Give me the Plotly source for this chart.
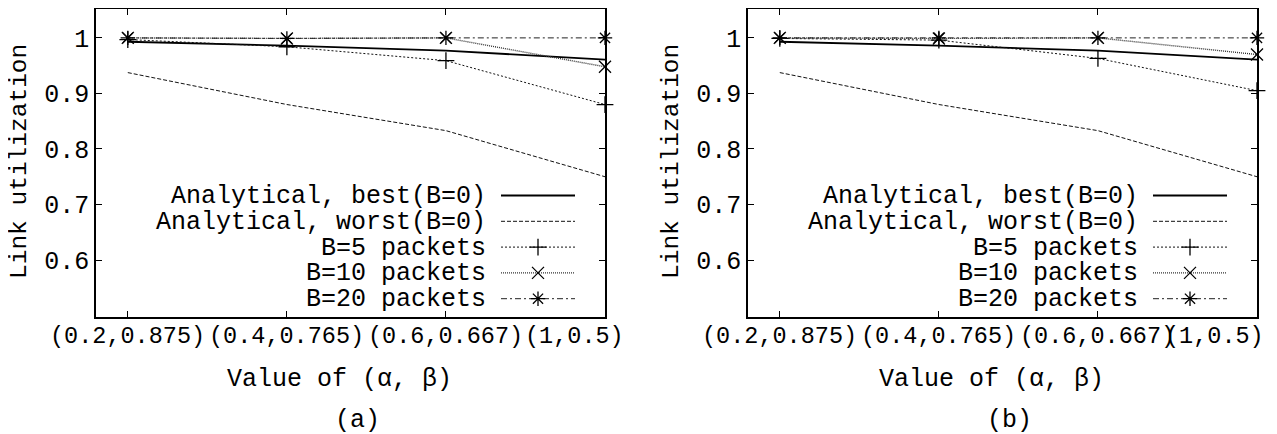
import plotly.graph_objects as go

# ---------------- data ----------------
x_labels = ["(0.2,0.875)", "(0.4,0.765)", "(0.6,0.667)", "(1,0.5)"]
x_idx = [0, 1, 2, 3]
y_ticks = [0.6, 0.7, 0.8, 0.9, 1]
y_ticktext = ["0.6", "0.7", "0.8", "0.9", "1"]

series_names = ["Analytical, best(B=0)", "Analytical, worst(B=0)",
                "B=5 packets", "B=10 packets", "B=20 packets"]

best_a = [0.993, 0.986, 0.977, 0.961]
worst_a = [0.9375, 0.880, 0.833, 0.750]
b5_a = [0.997, 0.984, 0.959, 0.880]
b10_a = [1.0, 0.999, 1.0, 0.948]
b20_a = [1.0, 0.999, 1.0, 1.0]

best_b = [0.993, 0.986, 0.977, 0.961]
worst_b = [0.9375, 0.880, 0.833, 0.750]
b5_b = [0.999, 0.996, 0.963, 0.905]
b10_b = [1.0, 0.999, 1.0, 0.970]
b20_b = [1.0, 1.0, 1.0, 1.0]

panel_labels = ["(a)", "(b)"]
x_title = "Value of (α, β)"
y_title = "Link utilization"

# ---------------- styles / layout ----------------
PAGE_W, PAGE_H = 1277, 434
OFF = 8  # default page body margin
W, H = PAGE_W - OFF, PAGE_H - OFF
FONT = "Liberation Mono, Courier New, monospace"


def fx(px):
    return (px - OFF) / W


def fy(py):
    return 1 - (py - OFF) / H


styles = [
    dict(dash="solid", width=1.8, symbol=None, color="#000"),
    dict(dash="4px,2px", width=1, symbol=None, color="#111"),
    dict(dash="2px,2px", width=1, symbol="cross-thin", color="#111"),
    dict(dash="1px,1px", width=1.4, symbol="x-thin", color="#333"),
    dict(dash="6px,3px,2px,3px", width=1, symbol="asterisk", color="#222"),
]
panels = [
    dict(left=96, right=605, data=[best_a, worst_a, b5_a, b10_a, b20_a],
         last_shift=-30.5),
    dict(left=748, right=1257, data=[best_b, worst_b, b5_b, b10_b, b20_b],
         last_shift=-42.5),
]
top_px, bot_px = 9, 316.7
leg_y0, leg_dy = 195.5, 25.8

fig = go.Figure()
layout = dict(
    template="none",
    width=W, height=H, autosize=False,
    margin=dict(l=0, r=0, t=0, b=0, pad=0),
    paper_bgcolor="white", plot_bgcolor="rgba(0,0,0,0)",
    showlegend=False,
    font=dict(family=FONT, color="black"),
    annotations=[], shapes=[],
)

for p_i, p in enumerate(panels):
    k = p_i + 1
    xa = "x" if k == 1 else f"x{k}"
    ya = "y" if k == 1 else f"y{k}"
    for s_i, (vals, st) in enumerate(zip(p["data"], styles)):
        mode = "lines" if st["symbol"] is None else "lines+markers"
        fig.add_trace(go.Scatter(
            x=x_idx, y=vals, mode=mode, xaxis=xa, yaxis=ya,
            name=series_names[s_i],
            line=dict(color=st["color"], width=st["width"], dash=st["dash"]),
            marker=dict(symbol=st["symbol"] or "circle", size=12, color="black",
                        line=dict(color="black", width=1.3)),
            cliponaxis=False,
        ))
    dom_x = [fx(p["left"]), fx(p["right"])]
    dom_y = [fy(bot_px), fy(top_px)]
    layout[f"xaxis{'' if k == 1 else k}"] = dict(
        domain=dom_x, anchor=ya, range=[-0.2, 3], automargin=False,
        tickvals=x_idx, showticklabels=False,
        ticks="inside", ticklen=6, tickwidth=1.2, tickcolor="black",
        showline=True, linecolor="black", linewidth=1.5, mirror="ticks",
        showgrid=False, zeroline=False,
    )
    layout[f"yaxis{'' if k == 1 else k}"] = dict(
        domain=dom_y, anchor=xa, range=[0.498, 1.052], automargin=False,
        tickvals=y_ticks, ticktext=y_ticktext,
        ticks="inside", ticklen=6, tickwidth=1.2, tickcolor="black",
        showline=True, linecolor="black", linewidth=1.5, mirror="ticks",
        showgrid=False, zeroline=False,
        tickfont=dict(family=FONT, size=25, color="black"),
    )
    # x tick labels placed on the axis scale (last one nudged inward like gnuplot)
    for i, (xv, lab) in enumerate(zip(x_idx, x_labels)):
        layout["annotations"].append(dict(
            xref=xa, yref="paper", x=xv, y=fy(336.7), text=lab, showarrow=False,
            xanchor="center", yanchor="middle",
            xshift=p["last_shift"] if i == len(x_idx) - 1 else 0,
            font=dict(family=FONT, size=23.5, color="black")))
    cx = (p["left"] + p["right"]) / 2
    # axis titles and panel label
    layout["annotations"].append(dict(
        xref="paper", yref="paper", x=fx(p["left"] - 77), y=fy(162),
        text=y_title, textangle=-90, showarrow=False,
        xanchor="center", yanchor="middle",
        font=dict(family=FONT, size=24.5, color="black")))
    layout["annotations"].append(dict(
        xref="paper", yref="paper", x=fx(cx - 11), y=fy(379),
        text=x_title, showarrow=False, xanchor="center", yanchor="middle",
        font=dict(family=FONT, size=25, color="black")))
    layout["annotations"].append(dict(
        xref="paper", yref="paper", x=fx(cx + 7), y=fy(420),
        text=panel_labels[p_i], showarrow=False, xanchor="center", yanchor="middle",
        font=dict(family=FONT, size=25, color="black")))
    # manual legend (text left, sample right)
    txt_r = p["right"] - 117
    s0, s1 = p["right"] - 104, p["right"] - 30
    for s_i, st in enumerate(styles):
        yy = leg_y0 + s_i * leg_dy
        layout["annotations"].append(dict(
            xref="paper", yref="paper", x=fx(txt_r), y=fy(yy + 1),
            text=series_names[s_i], showarrow=False,
            xanchor="right", yanchor="middle",
            font=dict(family=FONT, size=25, color="black")))
        fig.add_trace(go.Scatter(
            x=[s0, s1], y=[yy, yy], mode="lines", xaxis="x3", yaxis="y3",
            line=dict(color=st["color"], width=st["width"], dash=st["dash"]),
            hoverinfo="skip"))
        if st["symbol"]:
            fig.add_trace(go.Scatter(
                x=[(s0 + s1) / 2], y=[yy], mode="markers", xaxis="x3", yaxis="y3",
                marker=dict(symbol=st["symbol"], size=12, color="black",
                            line=dict(color="black", width=1.3)),
                hoverinfo="skip"))

# overlay axis in page-pixel units for the hand-built legend samples
layout["xaxis3"] = dict(domain=[0, 1], range=[OFF, PAGE_W], anchor="y3",
                        visible=False, fixedrange=True, automargin=False)
layout["yaxis3"] = dict(domain=[0, 1], range=[PAGE_H, OFF], anchor="x3",
                        visible=False, fixedrange=True, automargin=False)

fig.update_layout(**layout)
fig.write_html("out.html")
